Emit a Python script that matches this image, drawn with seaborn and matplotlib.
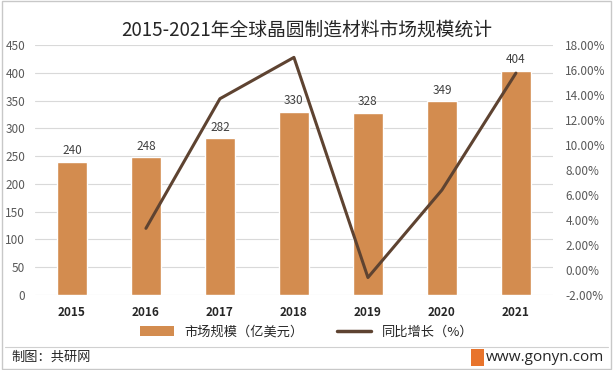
import matplotlib
matplotlib.use("Agg")
import matplotlib.pyplot as plt
import seaborn as sns
import numpy as np
import pandas as pd
from matplotlib.patches import Patch, Rectangle
from matplotlib.lines import Line2D

years = ["2015", "2016", "2017", "2018", "2019", "2020", "2021"]
market_size = [240, 248, 282, 330, 328, 349, 404]
growth_years = ["2016", "2017", "2018", "2019", "2020", "2021"]
growth_pct = [3.33, 13.71, 17.02, -0.61, 6.40, 15.76]

title = "2015-2021年全球晶圆制造材料市场规模统计"
bar_label = "市场规模（亿美元）"
line_label = "同比增长（%）"
source = "制图：共研网"
site = "www.gonyn.com"

sns.set_theme(style="white")
plt.rcParams['font.family'] = ['Noto Sans CJK SC', 'DejaVu Sans']
plt.rcParams['axes.unicode_minus'] = False

bar_color = "#D38C4F"
line_color = "#5E4331"
tick_color = "#595959"

fig = plt.figure(figsize=(6.13, 3.70), dpi=100)
ax = fig.add_axes([0.057, 0.203, 0.845, 0.675])

df = pd.DataFrame({"year": years, "size": market_size})
sns.barplot(data=df, x="year", y="size", color=bar_color, width=0.4,
            saturation=1, ax=ax, zorder=3)
ax.set_ylim(0, 450)
ax.set_yticks(np.arange(0, 451, 50))
ax.set_xlim(-0.5, 6.5)
ax.set_xlabel("")
ax.set_ylabel("")
ax.grid(axis="y", color="#D9D9D9", linewidth=0.8, zorder=0)
for s in ax.spines.values():
    s.set_visible(False)
ax.tick_params(axis="y", colors=tick_color, labelsize=8.5, length=0, pad=7)
ax.tick_params(axis="x", colors="#262626", labelsize=8.5, length=0, pad=8)
for lbl in ax.get_xticklabels():
    lbl.set_fontweight("bold")
for i, v in enumerate(market_size):
    ax.text(i, v + 8, f"{v}", ha="center", va="bottom", fontsize=8.5, color="#404040")

ax2 = ax.twinx()
gx = [years.index(y) for y in growth_years]
sns.lineplot(x=gx, y=growth_pct, color=line_color, linewidth=2.2, ax=ax2, zorder=5)
ax2.set_ylim(-2, 18)
ax2.set_yticks(np.arange(-2, 18.1, 2))
ax2.set_yticklabels([f"{t:.2f}%" for t in np.arange(-2, 18.1, 2)])
ax2.tick_params(axis="y", colors=tick_color, labelsize=8.5, length=0, pad=9)
for s in ax2.spines.values():
    s.set_visible(False)
ax2.grid(False)

fig.text(0.5, 0.918, title, ha="center", va="center", fontsize=13.5, color="#262626")

handles = [Patch(facecolor=bar_color, edgecolor="none"),
           Line2D([0], [0], color=line_color, linewidth=2.5)]
fig.legend(handles, [bar_label, line_label], loc="center", bbox_to_anchor=(0.5, 0.103),
           ncol=2, frameon=False, fontsize=9.5, handlelength=2.6, columnspacing=2.5,
           handleheight=0.8)

fig.add_artist(Line2D([0.008, 0.992], [0.062, 0.062], color="#D0D0D0", linewidth=0.8,
                      transform=fig.transFigure))
fig.add_artist(Rectangle((0.003, 0.004), 0.994, 0.992, fill=False, edgecolor="#C8C8C8",
                         linewidth=1.0, transform=fig.transFigure))
fig.text(0.018, 0.035, source, ha="left", va="center", fontsize=9.5, color="#262626")
fig.add_artist(Rectangle((0.768, 0.012), 0.022, 0.045, facecolor="#E8742C", edgecolor="none",
                         transform=fig.transFigure))
fig.text(0.985, 0.035, site, ha="right", va="center", fontsize=11, color="#262626",
         family=["Open Sans", "DejaVu Sans"])

fig.savefig("out.png", dpi=100)
